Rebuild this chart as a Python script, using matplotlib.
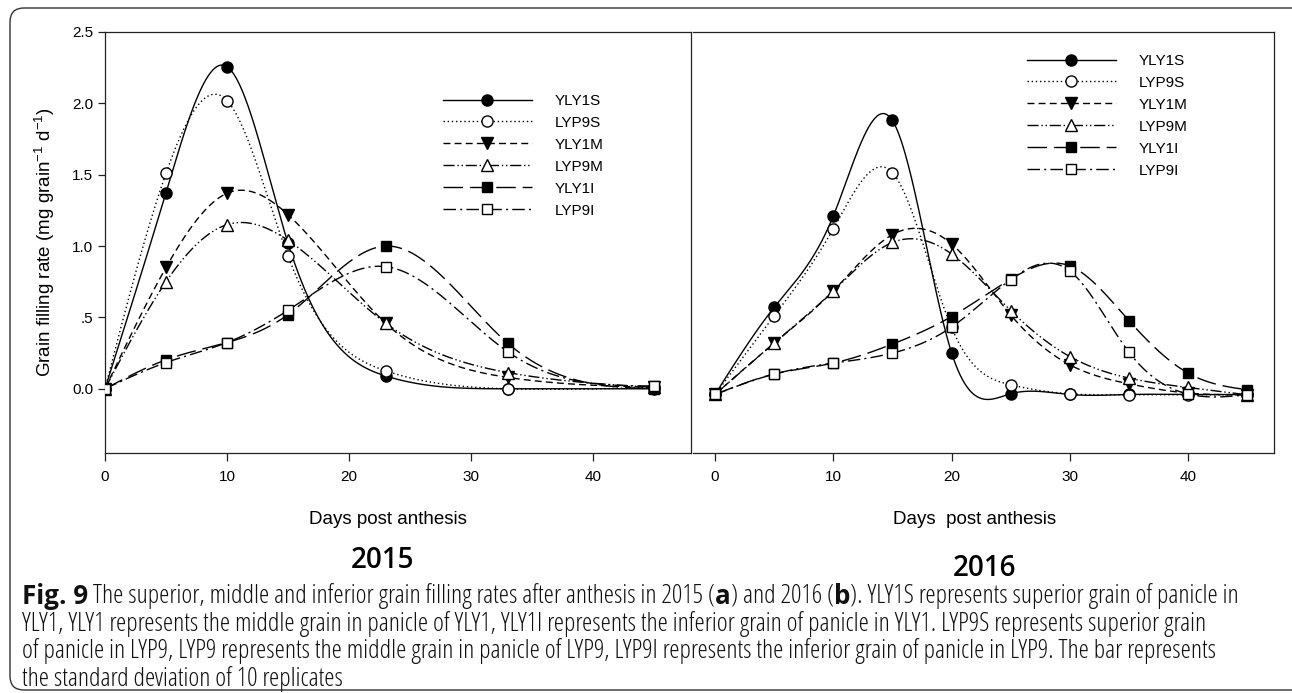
import numpy as np
import matplotlib
matplotlib.use('Agg')
import matplotlib.pyplot as plt
from matplotlib.patches import FancyBboxPatch
from matplotlib.lines import Line2D
from matplotlib.font_manager import FontProperties
from matplotlib.transforms import IdentityTransform

# ---------------- data ----------------
series_names = ['YLY1S', 'LYP9S', 'YLY1M', 'LYP9M', 'YLY1I', 'LYP9I']

days_2015 = [0, 5, 10, 15, 23, 33, 45]
yly1s_2015 = [0.0, 1.375, 2.257, 1.02, 0.09, 0.0, 0.0]
lyp9s_2015 = [0.0, 1.51, 2.02, 0.93, 0.126, 0.0, 0.01]
yly1m_2015 = [0.0, 0.85, 1.37, 1.22, 0.46, 0.08, 0.01]
lyp9m_2015 = [0.0, 0.75, 1.15, 1.04, 0.46, 0.114, 0.01]
yly1i_2015 = [0.0, 0.203, 0.324, 0.52, 1.0, 0.32, 0.0]
lyp9i_2015 = [0.0, 0.184, 0.324, 0.55, 0.856, 0.26, 0.02]

days_2016 = [0, 5, 10, 15, 20, 25, 30, 35, 40, 45]
yly1s_2016 = [-0.04, 0.57, 1.21, 1.88, 0.254, -0.035, -0.04, -0.04, -0.04, -0.04]
lyp9s_2016 = [-0.04, 0.51, 1.12, 1.515, 0.43, 0.028, -0.035, -0.042, -0.042, -0.042]
yly1m_2016 = [-0.04, 0.32, 0.686, 1.08, 1.015, 0.518, 0.168, 0.035, -0.03, -0.042]
lyp9m_2016 = [-0.04, 0.32, 0.686, 1.025, 0.945, 0.548, 0.226, 0.075, 0.009, -0.042]
yly1i_2016 = [-0.04, 0.103, 0.18, 0.313, 0.506, 0.768, 0.861, 0.478, 0.11, -0.007]
lyp9i_2016 = [-0.04, 0.103, 0.18, 0.25, 0.432, 0.765, 0.826, 0.257, -0.037, -0.042]

xticks = [0, 10, 20, 30, 40]
yticks = [0.0, 0.5, 1.0, 1.5, 2.0, 2.5]
ytick_labels = ['0.0', '.5', '1.0', '1.5', '2.0', '2.5']

xlabel_2015 = 'Days post anthesis'
xlabel_2016 = 'Days  post anthesis'
ylabel = r'Grain filling rate (mg grain$^{\mathregular{-1}}$ d$^{\mathregular{-1}}$)'
year_labels = ['2015', '2016']

caption_lines = [
    [('Fig. 9', True), (' The superior, middle and inferior grain filling rates after anthesis in 2015 (', False),
     ('a', True), (') and 2016 (', False), ('b', True),
     ('). YLY1S represents superior grain of panicle in', False)],
    [('YLY1, YLY1 represents the middle grain in panicle of YLY1, YLY1I represents the inferior grain of panicle in YLY1. LYP9S represents superior grain', False)],
    [('of panicle in LYP9, LYP9 represents the middle grain in panicle of LYP9, LYP9I represents the inferior grain of panicle in LYP9. The bar represents', False)],
    [('the standard deviation of 10 replicates', False)],
]

# ---------------- styles ----------------
plt.rcParams['font.family'] = ['Liberation Sans', 'DejaVu Sans']
plt.rcParams['mathtext.fontset'] = 'custom'
plt.rcParams['mathtext.rm'] = 'Liberation Sans'
plt.rcParams['mathtext.it'] = 'Liberation Sans:italic'
plt.rcParams['mathtext.bf'] = 'Liberation Sans:bold'

styles = {
    'YLY1S': dict(ls='-', marker='o', mfc='black', ms=8),
    'LYP9S': dict(ls=(0, (1, 2)), marker='o', mfc='white', ms=8),
    'YLY1M': dict(ls=(0, (5, 3)), marker='v', mfc='black', ms=8),
    'LYP9M': dict(ls=(0, (8, 2, 1, 2, 1, 2)), marker='^', mfc='white', ms=8),
    'YLY1I': dict(ls=(0, (14, 5)), marker='s', mfc='black', ms=7),
    'LYP9I': dict(ls=(0, (9, 3, 1.5, 3)), marker='s', mfc='white', ms=7),
}


def natural_cubic(x, y, xs):
    x = np.asarray(x, float)
    y = np.asarray(y, float)
    n = len(x)
    h = np.diff(x)
    A = np.zeros((n, n))
    b = np.zeros(n)
    A[0, 0] = 1
    A[-1, -1] = 1
    for i in range(1, n - 1):
        A[i, i - 1] = h[i - 1]
        A[i, i] = 2 * (h[i - 1] + h[i])
        A[i, i + 1] = h[i]
        b[i] = 3 * ((y[i + 1] - y[i]) / h[i] - (y[i] - y[i - 1]) / h[i - 1])
    c = np.linalg.solve(A, b)
    out = np.empty_like(xs)
    idx = np.clip(np.searchsorted(x, xs) - 1, 0, n - 2)
    for k, xv in enumerate(xs):
        i = idx[k]
        t = xv - x[i]
        bb = (y[i + 1] - y[i]) / h[i] - h[i] * (2 * c[i] + c[i + 1]) / 3
        d = (c[i + 1] - c[i]) / (3 * h[i])
        out[k] = y[i] + bb * t + c[i] * t ** 2 + d * t ** 3
    return out


W, H = 1292, 693
fig = plt.figure(figsize=(W / 100, H / 100), dpi=100)


def px_axes(x0, y0, x1, y1):
    return fig.add_axes([x0 / W, 1 - y1 / H, (x1 - x0) / W, (y1 - y0) / H])


ax1 = px_axes(105, 32, 691, 453)
ax2 = px_axes(693, 32, 1274, 453)

data_2015 = [yly1s_2015, lyp9s_2015, yly1m_2015, lyp9m_2015, yly1i_2015, lyp9i_2015]
data_2016 = [yly1s_2016, lyp9s_2016, yly1m_2016, lyp9m_2016, yly1i_2016, lyp9i_2016]


def draw_panel(ax, days, datasets):
    xs = np.linspace(days[0], days[-1], 500)
    handles = []
    for z, (name, vals) in enumerate(zip(series_names, datasets)):
        st = styles[name]
        ys = natural_cubic(days, vals, xs)
        ax.plot(xs, ys, color='black', lw=1.0, ls=st['ls'], zorder=2 + z * 0.01)
        ax.plot(days, vals, ls='none', marker=st['marker'], ms=st['ms'], mfc=st['mfc'],
                mec='black', mew=1.0, zorder=4 + z * 0.01)
        handles.append(Line2D([], [], color='black', lw=1.0, ls=st['ls'], marker=st['marker'],
                              ms=st['ms'], mfc=st['mfc'], mec='black', mew=1.0))
    return handles


h1 = draw_panel(ax1, days_2015, data_2015)
h2 = draw_panel(ax2, days_2016, data_2016)

for ax in (ax1, ax2):
    ax.set_ylim(-0.45, 2.5)
    ax.set_xticks(xticks)
    ax.tick_params(axis='both', direction='out', width=0.9, labelsize=11, color='#222222')
    ax.tick_params(axis='x', length=6, pad=6.3)
    ax.tick_params(axis='y', length=5, pad=3.5)
    for s in ax.spines.values():
        s.set_linewidth(0.9)
        s.set_color('#222222')

ax1.set_xlim(0, 48.03)
ax2.set_xlim(-1.86, 47.27)
ax1.set_yticks(yticks)
ax1.set_yticklabels(ytick_labels)
ax2.set_yticks([])
ax2.spines['left'].set_visible(False)

leg_kw = dict(frameon=False, handlelength=5.8, handletextpad=1.5, labelspacing=0.52,
              borderpad=0, borderaxespad=0, fontsize=11, numpoints=1, loc='upper left')
ax1.legend(h1, series_names, bbox_to_anchor=(0.5768, 0.853), **leg_kw)
ax2.legend(h2, series_names, bbox_to_anchor=(0.5749, 0.948), **leg_kw)

fig.text(45 / W, 1 - 242 / H, ylabel, rotation=90, ha='center', va='center', fontsize=13.5)
fig.text(388 / W, 1 - 520 / H, xlabel_2015, ha='center', va='center', fontsize=13.5)
fig.text(975 / W, 1 - 520 / H, xlabel_2016, ha='center', va='center', fontsize=13.5)
year_fam = ['Open Sans', 'DejaVu Sans']
fig.text(383 / W, 1 - 560 / H, year_labels[0], ha='center', va='center', fontsize=20,
         family=year_fam, weight='semibold')
fig.text(985 / W, 1 - 568 / H, year_labels[1], ha='center', va='center', fontsize=20,
         family=year_fam, weight='semibold')

border = FancyBboxPatch((10, 3), 1310, 682, boxstyle='round,pad=0,rounding_size=14',
                        transform=IdentityTransform(), fill=False, ec='#333333', lw=1.0)
fig.add_artist(border)

renderer = fig.canvas.get_renderer()
cap_fam = ['Open Sans', 'DejaVu Sans']


def seg_width(s, fp):
    w1 = renderer.get_text_width_height_descent('|' + s + '|', fp, ismath=False)[0]
    w0 = renderer.get_text_width_height_descent('||', fp, ismath=False)[0]
    return w1 - w0


def fp_for(bold, size):
    return FontProperties(family=cap_fam, size=size, weight='bold' if bold else 'light',
                          stretch='condensed')


base = 10.0
w_base = sum(seg_width(t, fp_for(b, base)) for t, b in caption_lines[0])
cap_size = base * 1222.0 / w_base

cap_y = [593, 621, 648, 676]
for line, yc in zip(caption_lines, cap_y):
    x = 22.0
    for text, bold in line:
        fp = fp_for(bold, cap_size)
        lead = len(text) - len(text.lstrip(' '))
        stripped = text.strip(' ')
        xo = x + (seg_width(' ' * lead, fp) if lead else 0.0)
        fig.text(xo / W, 1 - yc / H, stripped, fontproperties=fp, ha='left', va='center_baseline',
                 color='#111111')
        x += seg_width(text, fp)

fig.savefig('out.png', dpi=100)
